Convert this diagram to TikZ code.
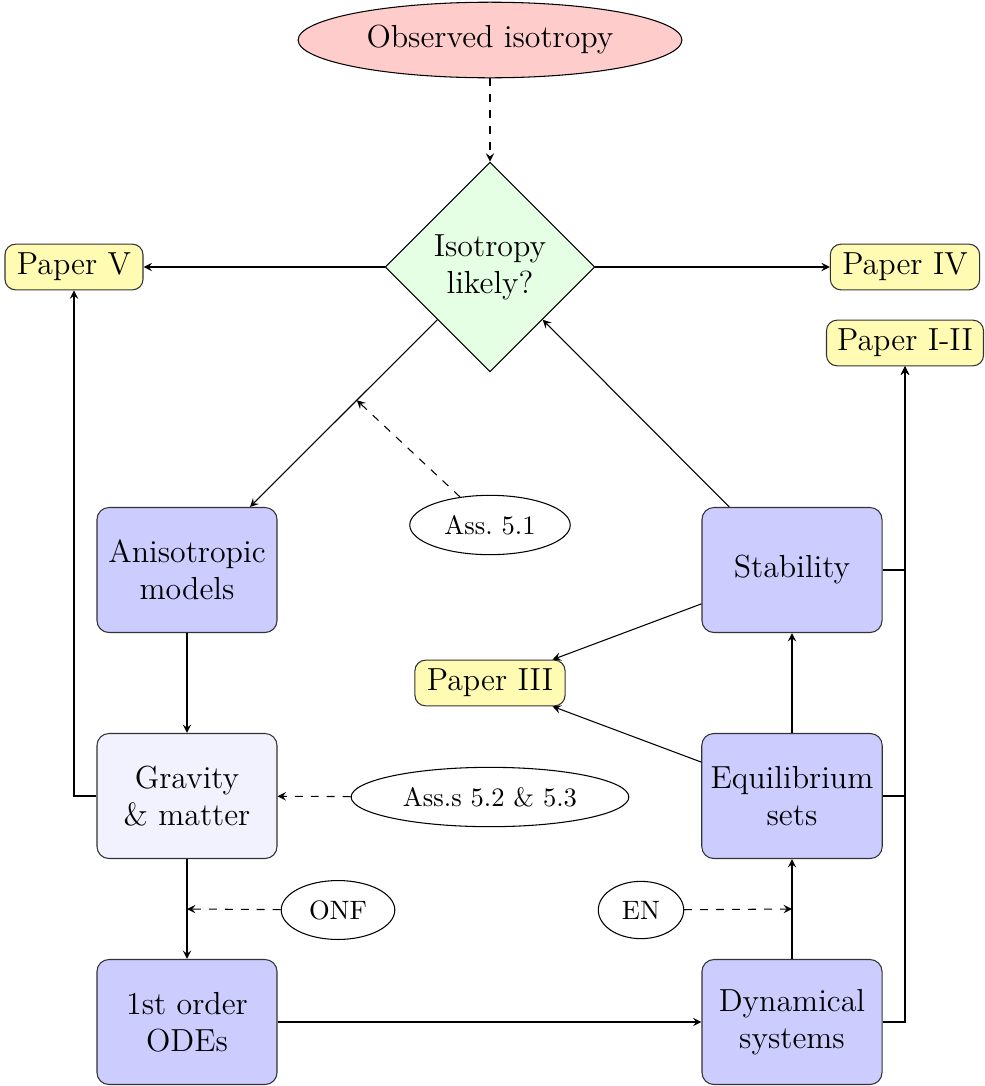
\documentclass[tikz,border=0pt]{standalone}
\usetikzlibrary{shapes.geometric}

\begin{document}
	\begin{tikzpicture}[x=0.376pt, y=-0.376pt, >=stealth,
		block/.style={rectangle, draw=black!80, rounded corners=4.5pt, fill=blue!20, minimum width=67.7pt, minimum height=47pt, align=center, font=\large},
		paper/.style={rectangle, draw=black!80, rounded corners=4pt, fill=yellow!30, inner xsep=4.5pt, font=\large},
		assume/.style={ellipse, draw, inner sep=4.2pt},
		decide/.style={diamond, draw, fill=green!10, aspect=1, inner sep=3pt, align=center, font=\large}]
		\useasboundingbox (0,0) rectangle (985,1086);
		% Top of the chart
		\node[ellipse, draw, fill=red!20, inner sep=4.6pt, font=\large] (obs) at (490,40) {Observed isotropy};
		\node[decide] (iso) at (490,267) {Isotropy\\likely?};
		\node[paper] (p5) at (74,267) {Paper V};
		\node[paper] (p4) at (905,267) {Paper IV};
		\node[paper, inner xsep=4pt] (p12) at (905,343) {Paper I-II};
		% Middle row
		\node[block] (aniso) at (187,570) {Anisotropic\\models};
		\node[assume] (ass51) at (490,525) {Ass.\ 5.1};
		\node[block] (stab) at (792,570) {Stability};
		\node[paper] (p3) at (490,683) {Paper III};
		\node[block, fill=blue!5] (grav) at (187,796) {Gravity\\\& matter};
		\node[assume] (ass52) at (490,797) {Ass.s 5.2 \& 5.3};
		\node[block] (equi) at (792,796) {Equilibrium\\sets};
		% Bottom row
		\node[assume] (onf) at (338,910) {ONF};
		\node[assume] (en) at (641,910) {EN};
		\node[block] (odes) at (187,1022) {1st order\\ODEs};
		\node[block] (dyn) at (792,1022) {Dynamical\\systems};

		\draw[dashed, ->] (obs) -- (iso);
		\draw[->] (iso) -- (p5);
		\draw[->] (iso) -- (p4);
		\draw[->] (iso.south west) -- coordinate[pos=0.43] (a51) (aniso);
		\draw[dashed, ->] (ass51) -- (a51);
		\draw[->] (stab) -- (iso.south east);
		\draw[->] (stab) -- (p3);
		\draw[->] (equi) -- (p3);
		\draw[->] (equi) -- (stab);
		\draw[->] (dyn) -- coordinate[midway] (enpt) (equi);
		\draw[dashed, ->] (en) -- (enpt);
		\draw[->] (aniso) -- (grav);
		\draw[->] (grav) -- coordinate[midway] (onfpt) (odes);
		\draw[dashed, ->] (onf) -- (onfpt);
		\draw[dashed, ->] (ass52) -- (grav);
		\draw[->] (odes) -- (dyn);
		\draw[->] (grav.west) -| (p5.south);	% back to Paper V
		\draw[->] (stab.east) -| (p12.south);
		\draw[->] (equi.east) -| (p12.south);
		\draw[->] (dyn.east) -| (p12.south);
	\end{tikzpicture}
\end{document}
